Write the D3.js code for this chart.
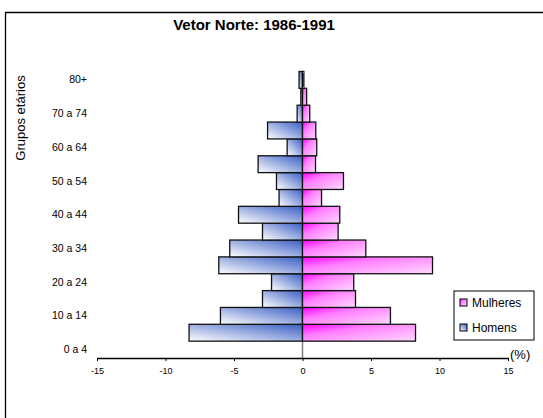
<!DOCTYPE html>
<html>
<head>
<meta charset="utf-8">
<script src="https://cdn.jsdelivr.net/npm/d3@7"></script>
<style>
  html, body { margin: 0; background: #fff; overflow: hidden; }
  svg { display: block; font-family: "Liberation Sans", Arial, sans-serif; }
</style>
</head>
<body>
<div id="chart"></div>
<script>
// age groups, bottom to top
const ageGroups = ["0 a 4", "5 a 9", "10 a 14", "15 a 19", "20 a 24", "25 a 29", "30 a 34", "35 a 39",
    "40 a 44", "45 a 49", "50 a 54", "55 a 59", "60 a 64", "65 a 69", "70 a 74", "75 a 79", "80+"];
// percentages (first row is empty in the original)
const homens = [null, 8.28, 5.99, 2.92, 2.26, 6.11, 5.31, 2.92, 4.67, 1.71, 1.90, 3.24, 1.12, 2.55, 0.39, 0.12, 0.25];
const mulheres = [null, 8.25, 6.42, 3.87, 3.74, 9.49, 4.62, 2.60, 2.72, 1.39, 2.99, 0.95, 1.04, 0.97, 0.53, 0.30, 0.10];
const xTicks = [-15, -10, -5, 0, 5, 10, 15];
const seriesNames = ["Mulheres", "Homens"];

const width = 543, height = 418;

const svg = d3.select("#chart").append("svg")
    .attr("width", width)
    .attr("height", height);

// gradients
const defs = svg.append("defs");
const gBlue = defs.append("linearGradient").attr("id", "gBlue")
    .attr("x1", 0).attr("y1", 1).attr("x2", 1).attr("y2", 0);
gBlue.append("stop").attr("offset", "0%").attr("stop-color", "#ffffff");
gBlue.append("stop").attr("offset", "100%").attr("stop-color", "#3a5ec4");
const gPink = defs.append("linearGradient").attr("id", "gPink")
    .attr("x1", 0).attr("y1", 0).attr("x2", 1).attr("y2", 1);
gPink.append("stop").attr("offset", "0%").attr("stop-color", "#ff00ff");
gPink.append("stop").attr("offset", "35%").attr("stop-color", "#ff7dff");
gPink.append("stop").attr("offset", "100%").attr("stop-color", "#ffd9ff");

// outer chart frame: only left and top edges are inside the picture
svg.append("path")
    .attr("d", `M5.5,${height} V12.5 H${width}`)
    .attr("fill", "none")
    .attr("stroke", "#000")
    .attr("stroke-width", 1.3);

// title
svg.append("text")
    .attr("x", 254).attr("y", 30)
    .attr("text-anchor", "middle")
    .style("font-size", "15px")
    .style("font-weight", "bold")
    .text("Vetor Norte: 1986-1991");

const x = d3.scaleLinear().domain([-15, 15]).range([97, 508]);
const y = d3.scaleBand().domain(ageGroups).range([358, 71.5]).padding(0);

// zero line
svg.append("line")
    .attr("x1", x(0)).attr("x2", x(0))
    .attr("y1", 71.5).attr("y2", 358)
    .attr("stroke", "#808080")
    .attr("stroke-width", 1.5);

const rows = ageGroups.map((g, i) => ({ g, h: homens[i], m: mulheres[i] }))
    .filter(d => d.h != null);

// men bars (left)
svg.selectAll(".homem")
    .data(rows)
    .enter()
    .append("rect")
    .attr("class", "homem")
    .attr("x", d => x(-d.h))
    .attr("y", d => y(d.g))
    .attr("width", d => x(0) - x(-d.h))
    .attr("height", y.bandwidth())
    .attr("fill", "url(#gBlue)")
    .attr("stroke", "#111")
    .attr("stroke-width", 1.3);

// women bars (right)
svg.selectAll(".mulher")
    .data(rows)
    .enter()
    .append("rect")
    .attr("class", "mulher")
    .attr("x", x(0))
    .attr("y", d => y(d.g))
    .attr("width", d => x(d.m) - x(0))
    .attr("height", y.bandwidth())
    .attr("fill", "url(#gPink)")
    .attr("stroke", "#111")
    .attr("stroke-width", 1.3);

// x axis
const xAxis = svg.append("g")
    .attr("transform", "translate(0,358)")
    .call(d3.axisBottom(x).tickValues(xTicks).tickSize(3).tickSizeOuter(0).tickFormat(d => String(d)));
xAxis.select(".domain").attr("stroke", "#000").attr("stroke-width", 1.3);
xAxis.selectAll(".tick line").attr("stroke", "#000");
xAxis.selectAll(".tick text")
    .attr("y", 10)
    .style("font-size", "9px")
    .style("font-family", "Liberation Sans, Arial, sans-serif")
    .attr("fill", "#000");

svg.append("text")
    .attr("x", 510).attr("y", 359)
    .style("font-size", "13px")
    .text("(%)");

// y labels, every other group
svg.selectAll(".ylab")
    .data(ageGroups.filter((d, i) => i % 2 === 0))
    .enter()
    .append("text")
    .attr("class", "ylab")
    .attr("x", 87)
    .attr("y", d => y(d) + y.bandwidth() / 2 + 3.5)
    .attr("text-anchor", "end")
    .style("font-size", "10.5px")
    .text(d => d);

// y title
svg.append("text")
    .attr("transform", "translate(25,118) rotate(-90)")
    .attr("text-anchor", "middle")
    .style("font-size", "13px")
    .text("Grupos etários");

// legend
const legend = svg.append("g").attr("transform", "translate(454,291)");
legend.append("rect")
    .attr("width", 80).attr("height", 49)
    .attr("fill", "#fff")
    .attr("stroke", "#000")
    .attr("stroke-width", 1);
const fills = ["url(#gPink)", "url(#gBlue)"];
seriesNames.forEach((name, i) => {
    legend.append("rect")
        .attr("x", 6).attr("y", 8 + i * 25)
        .attr("width", 7).attr("height", 7)
        .attr("fill", fills[i])
        .attr("stroke", "#000")
        .attr("stroke-width", 1);
    legend.append("text")
        .attr("x", 18).attr("y", 16 + i * 25)
        .style("font-size", "12px")
        .text(name);
});
</script>
</body>
</html>
